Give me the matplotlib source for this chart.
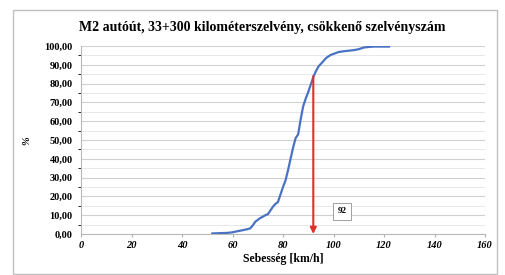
import matplotlib
matplotlib.use("Agg")
import matplotlib.pyplot as plt
from matplotlib.patches import Rectangle
from matplotlib.ticker import MultipleLocator

# speed [km/h] vs cumulative share [%]
speed = [52, 54, 56, 58, 60, 62, 64, 66, 67, 68, 69, 70, 71, 72, 73, 74,
         75, 76, 77, 78, 79, 80, 81, 82, 83, 84, 85, 86, 87, 88, 89, 90,
         91, 92, 93, 94, 95, 96, 97, 98, 99, 100, 102, 104, 106, 108, 110,
         112, 114, 116, 118, 120, 122]
cum_pct = [0.3, 0.4, 0.5, 0.6, 0.9, 1.5, 2.0, 2.6, 3.0, 4.5, 6.5, 7.5, 8.5,
           9.2, 10.0, 10.5, 12.5, 14.5, 16.0, 17.0, 21.0, 25.0, 28.5, 34.0,
           40.0, 46.0, 51.0, 53.0, 61.0, 68.0, 72.0, 75.5, 79.5, 83.5, 86.5,
           89.0, 90.5, 92.0, 93.5, 94.5, 95.3, 95.8, 96.8, 97.2, 97.5, 97.8,
           98.3, 99.2, 99.5, 99.7, 99.7, 99.7, 99.7]
v85 = 92
v85_pct = 84
x_ticks = [0, 20, 40, 60, 80, 100, 120, 140, 160]
y_ticks = [0, 10, 20, 30, 40, 50, 60, 70, 80, 90, 100]

title = "M2 autóút, 33+300 kilométerszelvény, csökkenő szelvényszám"
serif = ["Liberation Serif", "DejaVu Serif"]

fig = plt.figure(figsize=(5.06, 2.75), dpi=100)
fig.patches.append(Rectangle((13 / 506, 1 / 275), 484 / 506, 264 / 275,
                             transform=fig.transFigure, fill=False,
                             edgecolor="#c0c0c0", lw=1.0))
ax = fig.add_axes([81 / 506, 1 - 234 / 275, 404 / 506, 188 / 275])

ax.plot(speed, cum_pct, color="#4a72c4", lw=1.6, zorder=3)
ax.annotate("", xy=(v85, 0), xytext=(v85, v85_pct),
            arrowprops=dict(arrowstyle="-|>", color="#e0302a", lw=1.5,
                            mutation_scale=9, shrinkA=0, shrinkB=0), zorder=4)
ax.text(103.5, 12, str(v85), ha="center", va="center", fontsize=6.5,
        family=serif, fontweight="bold",
        bbox=dict(boxstyle="square,pad=0.5", fc="white", ec="#a0a0a0", lw=0.7))

ax.set_xlim(0, 160)
ax.set_ylim(0, 100)
ax.set_xticks(x_ticks)
ax.set_yticks(y_ticks)
ax.yaxis.set_minor_locator(MultipleLocator(5))
ax.set_xticklabels([str(t) for t in x_ticks], fontsize=7.5, family=serif,
                   fontweight="bold", style="italic")
ax.set_yticklabels([f"{t},00" for t in y_ticks], fontsize=7.5, family=serif,
                   fontweight="bold")
ax.grid(axis="y", which="major", color="#d0d0d0", lw=0.8)
ax.grid(axis="y", which="minor", color="#e4e4e4", lw=0.6)
ax.tick_params(axis="y", length=0, pad=6)
ax.tick_params(axis="x", length=2, color="#b0b0b0", pad=3)
for side in ["top", "right"]:
    ax.spines[side].set_visible(False)
for side in ["left", "bottom"]:
    ax.spines[side].set_color("#b8b8b8")
    ax.spines[side].set_linewidth(0.8)

ax.set_xlabel("Sebesség [km/h]", fontsize=8.5, family=serif,
              fontweight="bold", labelpad=2)
fig.text(27 / 506, 1 - 141 / 275, "%", rotation=90, ha="center", va="center",
         fontsize=7.5, family=serif, fontweight="bold", style="italic")
fig.text(262 / 506, 1 - 28 / 275, title, ha="center", va="center",
         fontsize=10, family=serif, fontweight="bold")

fig.savefig("out.png", dpi=100)
